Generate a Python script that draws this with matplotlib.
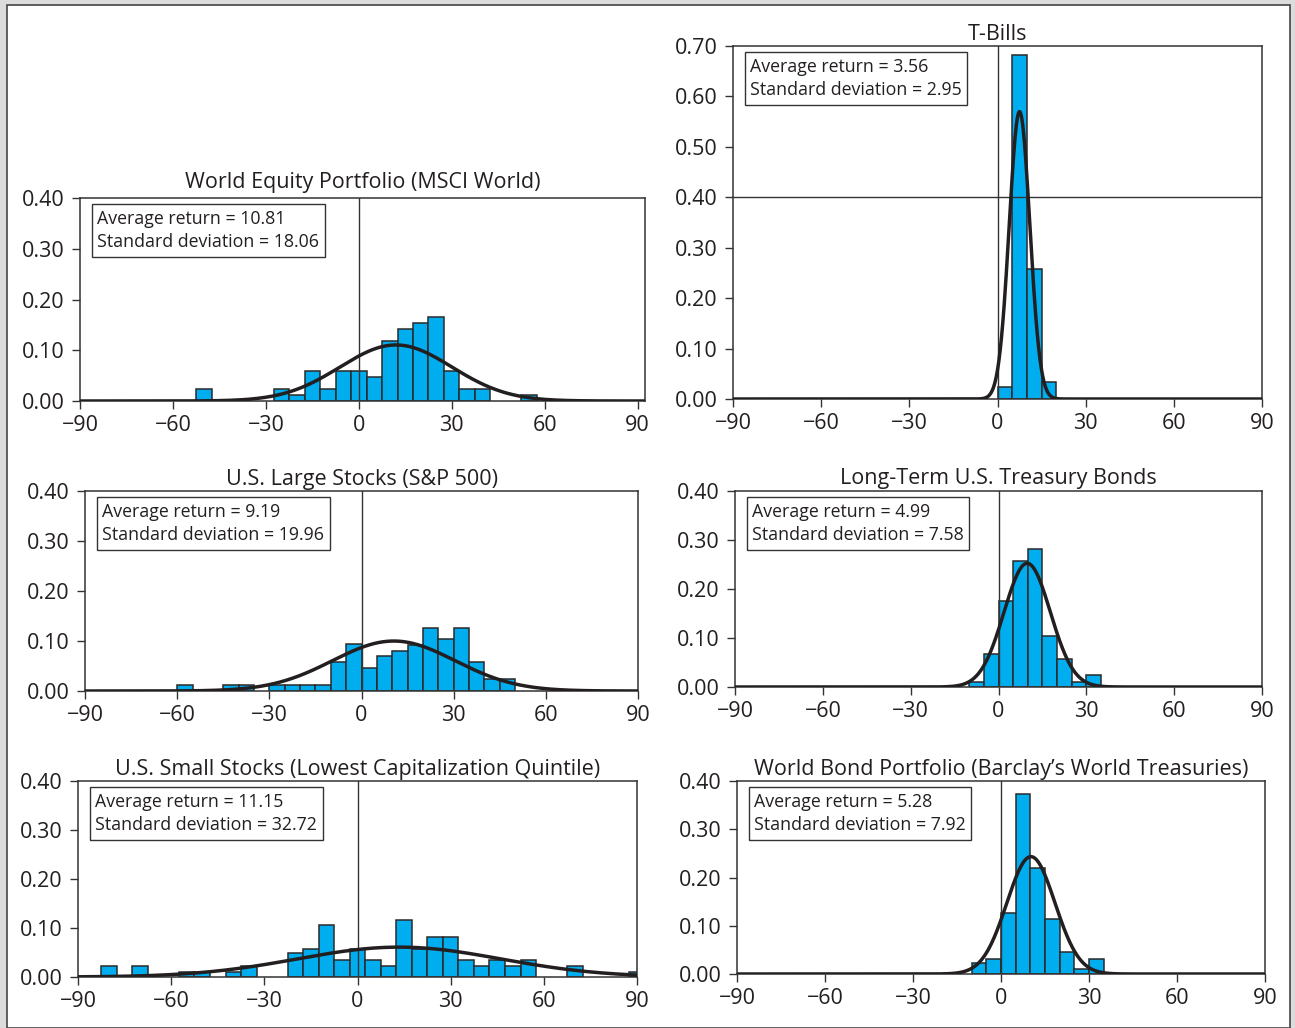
import numpy as np
import matplotlib
matplotlib.use("Agg")
import matplotlib.pyplot as plt
from matplotlib.patches import Rectangle

plt.rcParams['font.family'] = ['Open Sans', 'DejaVu Sans']

W, H = 1295, 1028
BIN_WIDTH = 5

# ---------------- data ----------------
titles = [
    "World Equity Portfolio (MSCI World)",
    "T-Bills",
    "U.S. Large Stocks (S&P 500)",
    "Long-Term U.S. Treasury Bonds",
    "U.S. Small Stocks (Lowest Capitalization Quintile)",
    "World Bond Portfolio (Barclay\u2019s World Treasuries)",
]
avg_returns = ["10.81", "3.56", "9.19", "4.99", "11.15", "5.28"]
std_devs = ["18.06", "2.95", "19.96", "7.58", "32.72", "7.92"]

world_eq_bins = [-50, -25, -20, -15, -10, -5, 0, 5, 10, 15, 20, 25, 30, 35, 40, 55]
world_eq_freq = [0.024, 0.024, 0.012, 0.059, 0.024, 0.059, 0.059, 0.047, 0.118,
                 0.141, 0.153, 0.165, 0.059, 0.024, 0.024, 0.012]

tbill_bins = [2.5, 7.5, 12.5, 17.5]
tbill_freq = [0.023, 0.682, 0.258, 0.034]

sp500_bins = [-57.5, -42.5, -37.5, -27.5, -22.5, -17.5, -12.5, -7.5, -2.5, 2.5, 7.5,
              12.5, 17.5, 22.5, 27.5, 32.5, 37.5, 42.5, 47.5]
sp500_freq = [0.012, 0.012, 0.012, 0.012, 0.012, 0.012, 0.012, 0.058, 0.094, 0.047,
              0.070, 0.080, 0.093, 0.127, 0.104, 0.127, 0.058, 0.024, 0.024]

lt_bond_bins = [-7.5, -2.5, 2.5, 7.5, 12.5, 17.5, 22.5, 27.5, 32.5]
lt_bond_freq = [0.010, 0.067, 0.176, 0.258, 0.282, 0.105, 0.058, 0.010, 0.024]

small_bins = [-80, -70, -55, -50, -40, -35, -20, -15, -10, -5, 0, 5, 10, 15, 20, 25,
              30, 35, 40, 45, 50, 55, 70, 90]
small_freq = [0.023, 0.023, 0.010, 0.010, 0.010, 0.023, 0.048, 0.058, 0.106, 0.035,
              0.058, 0.035, 0.023, 0.116, 0.058, 0.082, 0.082, 0.035, 0.023, 0.035,
              0.023, 0.035, 0.023, 0.010]

wb_bins = [-7.5, -2.5, 2.5, 7.5, 12.5, 17.5, 22.5, 27.5, 32.5]
wb_freq = [0.022, 0.031, 0.127, 0.374, 0.220, 0.113, 0.045, 0.010, 0.031]

# fitted normal curves as drawn in the picture (centre, sd)
curve_centers = [12.0, 7.5, 10.5, 9.8, 13.4, 10.2]
curve_sds = [18.06, 3.5, 19.96, 7.9, 32.72, 8.2]

bins_all = [world_eq_bins, tbill_bins, sp500_bins, lt_bond_bins, small_bins, wb_bins]
freq_all = [world_eq_freq, tbill_freq, sp500_freq, lt_bond_freq, small_freq, wb_freq]

x_ticks = [-90, -60, -30, 0, 30, 60, 90]
y_ticks_std = [0.0, 0.1, 0.2, 0.3, 0.4]
y_ticks_tbill = [0.0, 0.1, 0.2, 0.3, 0.4, 0.5, 0.6, 0.7]

# ---------------- layout (pixel boxes: left, right, top, bottom) ----------------
boxes = [
    (80, 645, 198, 401),
    (733, 1262, 46, 399),
    (85, 638, 491, 691),
    (735, 1262, 491, 687),
    (78, 637, 781, 977),
    (737, 1265, 781, 974),
]
xlims = [(-90, 92.4), (-90, 90), (-90, 90), (-90, 90), (-90, 90), (-90, 90)]
title_pads = [7, 4.5, 4.5, 5, 4.5, 4.5]

BAR = '#00AEEF'
DARK = '#231F20'
AX = '#333333'

fig = plt.figure(figsize=(W / 100, H / 100), dpi=100)
fig.patch.set_facecolor('#dcdcdc')
fig.patches.append(Rectangle((7 / W, 0), (1290 - 7) / W, 1 - 5 / H,
                             transform=fig.transFigure, facecolor='white',
                             edgecolor='#444444', linewidth=1.2, zorder=-10))

for i in range(6):
    l, r, t, b = boxes[i]
    ax = fig.add_axes([l / W, 1 - b / H, (r - l) / W, (b - t) / H])
    ax.set_facecolor('none')
    ax.bar(bins_all[i], freq_all[i], width=BIN_WIDTH, color=BAR,
           edgecolor='#2a2a2a', linewidth=1.1, zorder=2)
    xs = np.linspace(-90, 93, 800)
    ys = BIN_WIDTH * np.exp(-0.5 * ((xs - curve_centers[i]) / curve_sds[i]) ** 2) / (
        curve_sds[i] * np.sqrt(2 * np.pi))
    ax.plot(xs, ys, color=DARK, linewidth=2.5, zorder=4, solid_capstyle='round')
    ax.axvline(0, color=AX, linewidth=1.0, zorder=3)
    ax.set_xlim(*xlims[i])
    if i == 1:
        ax.set_ylim(0, 0.70)
        ax.set_yticks(y_ticks_tbill)
        ax.axhline(0.40, color=AX, linewidth=1.0, zorder=3)
    else:
        ax.set_ylim(0, 0.40)
        ax.set_yticks(y_ticks_std)
    ax.yaxis.set_major_formatter(matplotlib.ticker.FormatStrFormatter('%.2f'))
    ax.set_xticks(x_ticks)
    ax.set_xticklabels([("\u2212%d" % -v) if v < 0 else "%d" % v for v in x_ticks])
    ax.tick_params(axis='both', direction='out', length=6, width=1.0, color=AX,
                   labelsize=15.5, labelcolor='#231F20')
    ax.tick_params(axis='x', pad=4)
    ax.tick_params(axis='y', pad=5)
    for s in ax.spines.values():
        s.set_color(AX)
        s.set_linewidth(1.1)
    ax.set_title(titles[i], fontsize=15.5, color='#231F20', pad=title_pads[i])
    ax.annotate("Average return = %s\nStandard deviation = %s" % (avg_returns[i], std_devs[i]),
                xy=(0, 1), xycoords='axes fraction', xytext=(12.5, -8.5),
                textcoords='offset points', ha='left', va='top', fontsize=12.8,
                color='#231F20', linespacing=1.4, zorder=6,
                bbox=dict(boxstyle='square,pad=0.3', facecolor='white',
                          edgecolor=AX, linewidth=1.0))

fig.savefig('out.png', dpi=100, facecolor=fig.get_facecolor())
